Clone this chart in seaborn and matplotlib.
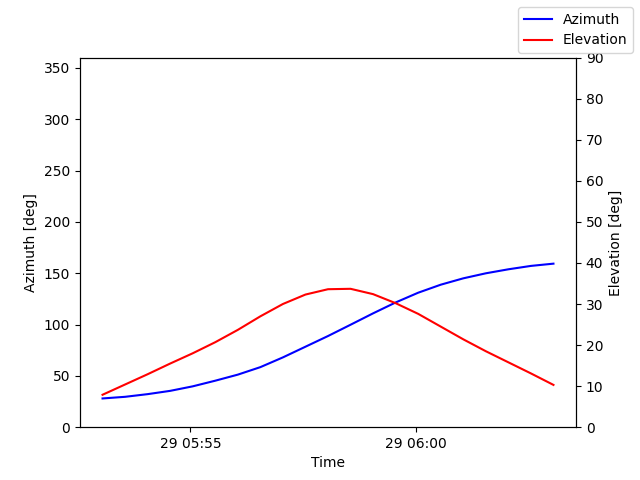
import numpy as np
import pandas as pd
import matplotlib
matplotlib.use("Agg")
import matplotlib.pyplot as plt
import matplotlib.dates as mdates
import seaborn as sns

# Time stamps (30 s steps)
times = pd.date_range("2023-06-29 05:53:03", periods=21, freq="30s")

azimuth = [28.0, 29.6, 32.2, 35.4, 39.8, 45.3, 51.2, 58.5, 68.0, 78.4, 88.8,
           99.8, 110.9, 121.5, 131.0, 138.8, 145.0, 149.9, 153.8, 157.1, 159.3]
elevation = [7.9, 10.4, 12.9, 15.5, 18.0, 20.7, 23.7, 27.0, 30.0, 32.3, 33.6,
             33.7, 32.4, 30.2, 27.6, 24.5, 21.4, 18.5, 15.8, 13.1, 10.3]

df = pd.DataFrame({"Time": times, "Azimuth": azimuth, "Elevation": elevation})

plt.rcParams["font.family"] = ["DejaVu Sans"]

fig, ax = plt.subplots(figsize=(6.4, 4.8), dpi=100)
sns.lineplot(data=df, x="Time", y="Azimuth", color="blue", label="Azimuth", ax=ax, legend=False)
ax2 = ax.twinx()
sns.lineplot(data=df, x="Time", y="Elevation", color="red", label="Elevation", ax=ax2, legend=False)

ax.set_ylim(0, 360)
ax2.set_ylim(0, 90)
ax.set_ylabel("Azimuth [deg]")
ax2.set_ylabel("Elevation [deg]")
ax.set_xlabel("Time")
ax.xaxis.set_major_locator(mdates.MinuteLocator(byminute=[55, 0]))
ax.xaxis.set_major_formatter(mdates.DateFormatter("%d %H:%M"))

fig.legend(loc="upper right")
fig.savefig("out.png", dpi=100)
